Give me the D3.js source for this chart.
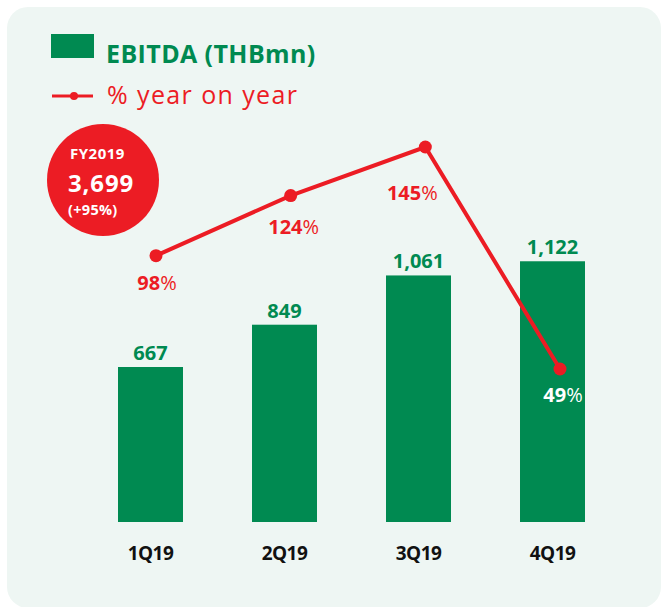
<!DOCTYPE html>
<html>
<head>
<meta charset="utf-8">
<script src="https://cdn.jsdelivr.net/npm/d3@7"></script>
<style>
  body { margin: 0; background: #ffffff; }
  svg { display: block; font-family: "Open Sans", sans-serif; }
</style>
</head>
<body>
<div id="chart"></div>
<script>
// data
var quarters = ["1Q19", "2Q19", "3Q19", "4Q19"];
var ebitda = [667, 849, 1061, 1122];
var ebitdaLabels = ["667", "849", "1,061", "1,122"];
var yoy = [98, 124, 145, 49];
var fyTitle = "FY2019";
var fyTotal = "3,699";
var fyGrowth = "(+95%)";

var svgWidth = 662;
var svgHeight = 607;

var green = "#008a51";
var red = "#ec1c24";

var svg = d3.select("#chart")
    .append("svg")
    .attr("width", svgWidth)
    .attr("height", svgHeight);

// panel background
svg.append("rect")
    .attr("x", 7)
    .attr("y", 7)
    .attr("width", 654)
    .attr("height", 601)
    .attr("rx", 21)
    .attr("fill", "#eef6f3");

// scales
var baseline = 522;
var xBand = d3.scaleBand()
    .domain(quarters)
    .range([118, 585])
    .paddingInner(0.515)
    .paddingOuter(0);

var yBar = d3.scaleLinear()
    .domain([0, 667])
    .range([baseline, 367]);

var xDot = d3.scalePoint()
    .domain(quarters)
    .range([156, 560]);

var yPct = d3.scaleLinear()
    .domain([49, 145])
    .range([369, 147]);

// bars
svg.selectAll(".bar")
    .data(ebitda)
    .enter()
    .append("rect")
    .attr("class", "bar")
    .attr("x", (d, i) => xBand(quarters[i]))
    .attr("y", d => yBar(d))
    .attr("width", xBand.bandwidth())
    .attr("height", d => baseline - yBar(d))
    .attr("fill", green);

// bar values
svg.selectAll(".barText")
    .data(ebitda)
    .enter()
    .append("text")
    .attr("x", (d, i) => xBand(quarters[i]) + xBand.bandwidth() / 2)
    .attr("y", d => yBar(d) - 7)
    .attr("text-anchor", "middle")
    .attr("font-size", 20)
    .attr("font-weight", 700)
    .attr("fill", green)
    .text((d, i) => ebitdaLabels[i]);

// category labels
svg.selectAll(".catText")
    .data(quarters)
    .enter()
    .append("text")
    .attr("x", d => xBand(d) + xBand.bandwidth() / 2)
    .attr("y", 560)
    .attr("text-anchor", "middle")
    .attr("font-size", 19)
    .attr("font-weight", 700)
    .attr("fill", "#111111")
    .attr("letter-spacing", -0.5)
    .text(d => d);

// yoy line
var line = d3.line()
    .x((d, i) => xDot(quarters[i]))
    .y(d => yPct(d));

svg.append("path")
    .datum(yoy)
    .attr("d", line)
    .attr("fill", "none")
    .attr("stroke", red)
    .attr("stroke-width", 4);

svg.selectAll(".dot")
    .data(yoy)
    .enter()
    .append("circle")
    .attr("cx", (d, i) => xDot(quarters[i]))
    .attr("cy", d => yPct(d))
    .attr("r", 6.5)
    .attr("fill", red);

// yoy labels (offsets from the dot)
var labelDx = [1, 3, -13, 3];
var labelDy = [34, 38, 53, 33];

var pctText = svg.selectAll(".pctText")
    .data(yoy)
    .enter()
    .append("text")
    .attr("x", (d, i) => xDot(quarters[i]) + labelDx[i])
    .attr("y", (d, i) => yPct(d) + labelDy[i])
    .attr("text-anchor", "middle")
    .attr("font-size", 20)
    .attr("fill", (d, i) => i === 3 ? "#ffffff" : red);

pctText.append("tspan")
    .attr("font-weight", 700)
    .text(d => d);
pctText.append("tspan")
    .attr("font-weight", 400)
    .text("%");

// legend
svg.append("rect")
    .attr("x", 51)
    .attr("y", 34)
    .attr("width", 43)
    .attr("height", 24)
    .attr("fill", green);

svg.append("text")
    .attr("x", 106)
    .attr("y", 63)
    .attr("font-size", 25)
    .attr("font-weight", 700)
    .attr("letter-spacing", 0.4)
    .attr("fill", green)
    .text("EBITDA (THBmn)");

svg.append("line")
    .attr("x1", 52)
    .attr("x2", 93)
    .attr("y1", 96)
    .attr("y2", 96)
    .attr("stroke", red)
    .attr("stroke-width", 3);

svg.append("circle")
    .attr("cx", 74)
    .attr("cy", 96)
    .attr("r", 4)
    .attr("fill", red);

svg.append("text")
    .attr("x", 107)
    .attr("y", 104)
    .attr("font-size", 25)
    .attr("letter-spacing", 1.4)
    .attr("fill", red)
    .text("% year on year");

// FY2019 badge
svg.append("circle")
    .attr("cx", 103)
    .attr("cy", 180)
    .attr("r", 56)
    .attr("fill", red);

svg.append("text")
    .attr("x", 70)
    .attr("y", 159)
    .attr("font-size", 15)
    .attr("font-weight", 700)
    .attr("letter-spacing", 0.5)
    .attr("fill", "#ffffff")
    .text(fyTitle);

svg.append("text")
    .attr("x", 68)
    .attr("y", 192)
    .attr("font-size", 24)
    .attr("font-weight", 700)
    .attr("letter-spacing", 0.9)
    .attr("fill", "#ffffff")
    .text(fyTotal);

svg.append("text")
    .attr("x", 68)
    .attr("y", 215)
    .attr("font-size", 14.5)
    .attr("font-weight", 700)
    .attr("letter-spacing", 0.3)
    .attr("fill", "#ffffff")
    .text(fyGrowth);
</script>
</body>
</html>
